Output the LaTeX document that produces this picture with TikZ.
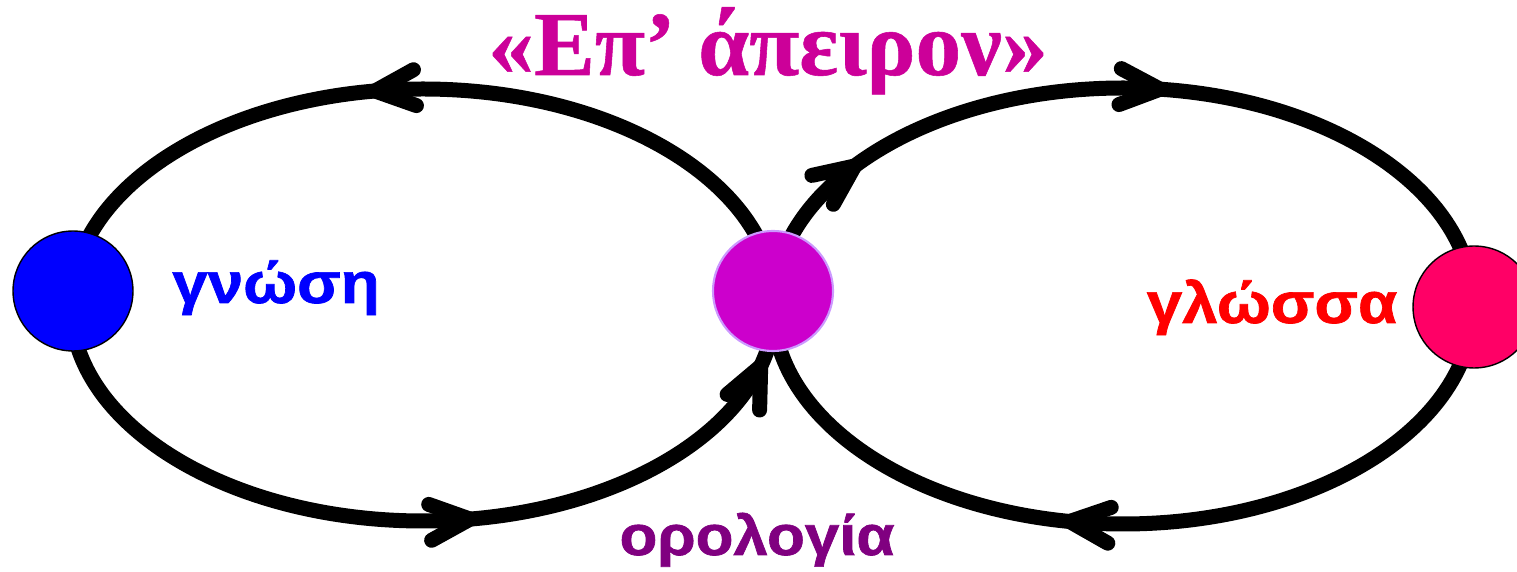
\documentclass[tikz,border=0pt]{standalone}
\usepackage{fontspec}
\usetikzlibrary{decorations.markings}
\newfontfamily\lblfont[FakeStretch=1.1, BoldFeatures={FakeBold=1.2}]{Liberation Sans}
\newfontfamily\titlefont[BoldFeatures={FakeBold=0.6}]{Liberation Serif}
\definecolor{cblue}{HTML}{0000FF}
\definecolor{cmag}{HTML}{CC00CC}
\definecolor{cmagedge}{HTML}{CC99FF}
\definecolor{cpink}{HTML}{FF0066}
\definecolor{ctitle}{HTML}{CC0099}
\definecolor{cred}{HTML}{FF0000}
\definecolor{cpurple}{HTML}{800080}
\newcommand\chevtip{\draw[line width=0.3cm,line cap=round,line join=round] (-0.8cm,0.36cm) -- (0,0) -- (-0.8cm,-0.36cm);}
\tikzset{
  loopline/.style={line width=0.3cm, postaction=decorate},
  dot/.style={circle, minimum size=2.4cm, inner sep=0pt, line width=0.8pt},
  lbl/.style={font=\lblfont\bfseries\fontsize{33pt}{38pt}\selectfont, inner sep=0pt, anchor=base},
}
\begin{document}
\begin{tikzpicture}[x=0.02cm, y=0.02cm]
\useasboundingbox (0,0) rectangle (1517,571);
\clip (0,0) rectangle (1517,571);
\coordinate (Lc) at (423,266);
\coordinate (Rc) at (1123,265);
% left loop: magenta -> top -> blue -> bottom -> magenta
\draw[loopline, decoration={markings, mark=at position 0.553 with {\chevtip}}]
  (Lc) ++(0:352 and 216) arc[start angle=0, end angle=180, x radius=352, y radius=216];
\draw[loopline, decoration={markings, mark=at position 0.552 with {\chevtip}, mark=at position 0.93 with {\chevtip}}]
  (Lc) ++(180:352 and 216) arc[start angle=180, end angle=360, x radius=352, y radius=216];
% right loop: magenta -> top -> pink -> bottom -> magenta
\draw[loopline, decoration={markings, mark=at position 0.186 with {\chevtip}, mark=at position 0.541 with {\chevtip}}]
  (Rc) ++(180:350 and 218) arc[start angle=180, end angle=0, x radius=350, y radius=218];
\draw[loopline, decoration={markings, mark=at position 0.559 with {\chevtip}}]
  (Rc) ++(0:350 and 218) arc[start angle=0, end angle=-180, x radius=350, y radius=218];
% nodes
\node[dot, fill=cblue, draw=black] (know) at (73,280) {};
\node[dot, fill=cmag, draw=cmagedge, line width=1.2pt] (mid) at (773,280) {};
\node[dot, fill=cpink, draw=black, minimum size=2.44cm] (lang) at (1474,264) {};
% labels
\node[lbl, text=cblue] (tknow) at (276,268) {γνώση};
\node[lbl, text=cred] (tlang) at (1272,248) {γλώσσα};
\node[lbl, text=cpurple, font=\lblfont\bfseries\fontsize{32pt}{38pt}\selectfont] (tterm) at (757,16) {ορολογία};
\node[text=ctitle, font=\titlefont\bfseries\fontsize{52pt}{60pt}\selectfont, inner sep=0pt, anchor=base] (title) at (768,496) {«Επ’ άπειρον»};
\end{tikzpicture}
\end{document}
